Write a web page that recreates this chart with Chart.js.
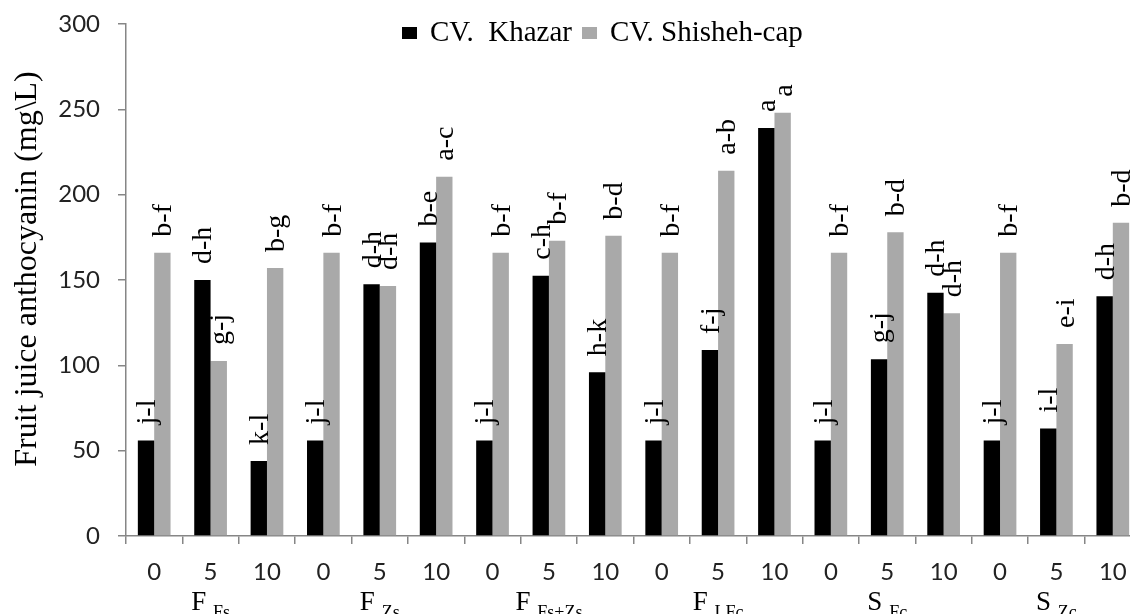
<!DOCTYPE html>
<html>
<head>
<meta charset="utf-8">
<title>Fruit juice anthocyanin</title>
<script src="https://cdn.jsdelivr.net/npm/chart.js@4.4.1/dist/chart.umd.min.js"></script>
<style>
    html, body { margin: 0; padding: 0; background: #fff; overflow: hidden; }
    #wrap { position: relative; width: 1145px; height: 614px; }
</style>
</head>
<body>
<div id="wrap"><canvas id="anthoChart"></canvas></div>
<script>
// Data
const rates = ['0', '5', '10', '0', '5', '10', '0', '5', '10', '0', '5', '10', '0', '5', '10', '0', '5', '10'];
const groupMain = ['F', 'F', 'F', 'F', 'S', 'S'];
const groupSub = ['Fs', 'Zs', 'Fs+Zs', 'LFc', 'Fc', 'Zc'];
const khazar = [56, 150, 44, 56, 147.5, 172, 56, 152.5, 96, 56, 109, 239, 56, 103.5, 142.5, 56, 63, 140.5];
const shisheh = [166, 102.5, 157, 166, 146.5, 210.5, 166, 173, 176, 166, 214, 248, 166, 178, 130.5, 166, 112.5, 183.5];
const khazarLetters = ['j-l', 'd-h', 'k-l', 'j-l', 'd-h', 'b-e', 'j-l', 'c-h', 'h-k', 'j-l', 'f-j', 'a', 'j-l', 'g-j', 'd-h', 'j-l', 'i-l', 'd-h'];
const shishehLetters = ['b-f', 'g-j', 'b-g', 'b-f', 'd-h', 'a-c', 'b-f', 'b-f', 'b-d', 'b-f', 'a-b', 'a', 'b-f', 'b-d', 'd-h', 'b-f', 'e-i', 'b-d'];
const yTicks = [0, 50, 100, 150, 200, 250, 300];
const yTitle = 'Fruit juice anthocyanin (mg\\L)';

const serif = '"Liberation Serif", "Times New Roman", serif';
const sans = 'Lato, "Open Sans", sans-serif';
const axisGray = '#868686';

// Letters written vertically above every bar
const letterPlugin = {
    id: 'barLetters',
    afterDatasetsDraw(chart) {
        const ctx = chart.ctx;
        ctx.save();
        ctx.font = '28px ' + serif;
        ctx.fillStyle = '#000';
        ctx.textAlign = 'left';
        ctx.textBaseline = 'alphabetic';
        chart.data.datasets.forEach((ds, i) => {
            chart.getDatasetMeta(i).data.forEach((bar, j) => {
                ctx.save();
                ctx.translate(bar.x + 9, bar.y - 16);
                ctx.rotate(-Math.PI / 2);
                ctx.fillText(ds.letters[j], 0, 0);
                ctx.restore();
            });
        });
        ctx.restore();
    }
};

// Legend drawn inside the plot, near the top
const legendPlugin = {
    id: 'topLegend',
    afterDraw(chart) {
        const ctx = chart.ctx;
        let x = chart.chartArea.left + 276;
        const y = 33;
        ctx.save();
        ctx.font = '29px ' + serif;
        ctx.textBaseline = 'middle';
        ctx.textAlign = 'left';
        chart.data.datasets.forEach(ds => {
            ctx.fillStyle = ds.backgroundColor;
            ctx.fillRect(x, y - 6, 15, 12);
            x += 15 + 13;
            ctx.fillStyle = '#000';
            ctx.fillText(ds.label, x, y);
            x += ctx.measureText(ds.label).width + 10;
        });
        ctx.restore();
    }
};

// Y axis title, set a little above the middle as in the figure
const titlePlugin = {
    id: 'yTitle',
    afterDraw(chart) {
        const ctx = chart.ctx;
        const area = chart.chartArea;
        ctx.save();
        ctx.font = '32px ' + serif;
        ctx.fillStyle = '#000';
        ctx.textAlign = 'center';
        ctx.textBaseline = 'middle';
        ctx.translate(28, (area.top + area.bottom) / 2 - 11);
        ctx.rotate(-Math.PI / 2);
        ctx.fillText(yTitle, 0, 0);
        ctx.restore();
    }
};

// Treatment names under each group of three rates
const groupPlugin = {
    id: 'groupNames',
    afterDraw(chart) {
        const ctx = chart.ctx;
        const xs = chart.scales.x;
        ctx.save();
        ctx.fillStyle = '#000';
        ctx.textAlign = 'left';
        ctx.textBaseline = 'alphabetic';
        groupMain.forEach((m, k) => {
            const cx = xs.getPixelForValue(k * 3 + 1);
            const mainText = m + ' ';
            ctx.font = '27px ' + serif;
            const w1 = ctx.measureText(mainText).width;
            ctx.font = '18px ' + serif;
            const w2 = ctx.measureText(groupSub[k]).width;
            const start = cx - (w1 + w2) / 2;
            ctx.font = '27px ' + serif;
            ctx.fillText(mainText, start, 610);
            ctx.font = '18px ' + serif;
            ctx.fillText(groupSub[k], start + w1, 618);
        });
        ctx.restore();
    }
};

const ctx = document.getElementById('anthoChart').getContext('2d');
new Chart(ctx, {
    type: 'bar',
    data: {
        labels: rates,
        datasets: [{
            label: 'CV.  Khazar',
            data: khazar,
            letters: khazarLetters,
            backgroundColor: '#000000'
        }, {
            label: 'CV. Shisheh-cap',
            data: shisheh,
            letters: shishehLetters,
            backgroundColor: '#a9a9a9'
        }]
    },
    options: {
        responsive: true,
        maintainAspectRatio: false,
        animation: false,
        layout: { padding: { left: 0, right: 4, top: 0, bottom: 0 } },
        datasets: { bar: { barPercentage: 1, categoryPercentage: 0.58 } },
        plugins: {
            legend: { display: false },
            tooltip: { enabled: false }
        },
        scales: {
            x: {
                grid: { drawOnChartArea: false, tickLength: 8, color: axisGray, lineWidth: 1.5 },
                border: { color: axisGray, width: 1.5 },
                ticks: { font: { family: sans, size: 24 }, color: '#222', padding: 14, maxRotation: 0, autoSkip: false },
                afterFit(scale) { scale.height = 78; }
            },
            y: {
                min: yTicks[0],
                max: yTicks[yTicks.length - 1],
                grid: { drawOnChartArea: false, tickLength: 8, color: axisGray, lineWidth: 1.5 },
                border: { color: axisGray, width: 1.5 },
                ticks: { stepSize: yTicks[1] - yTicks[0], font: { family: sans, size: 24 }, color: '#222', padding: 18 },
                afterFit(scale) {
                    scale.width = 126;
                    scale.paddingTop = 24;
                    scale.paddingBottom = 0;
                }
            }
        }
    },
    plugins: [letterPlugin, legendPlugin, titlePlugin, groupPlugin]
});
</script>
</body>
</html>
